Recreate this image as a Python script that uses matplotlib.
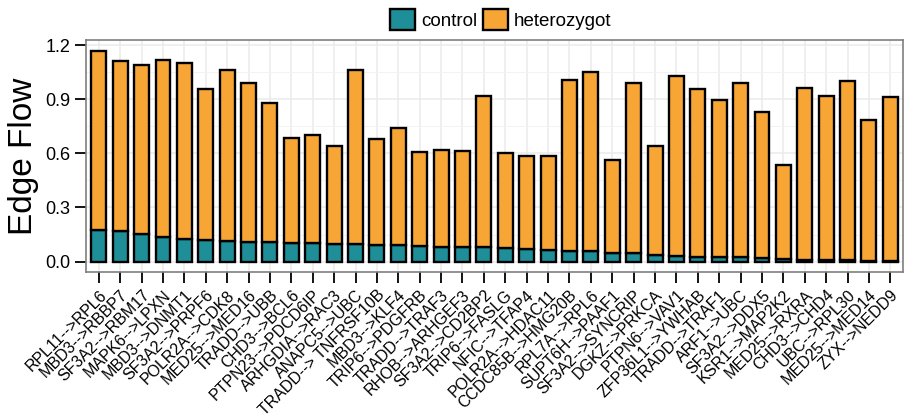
import matplotlib
matplotlib.use("Agg")
import matplotlib.pyplot as plt
import numpy as np
from matplotlib.ticker import MultipleLocator
from matplotlib.patches import Patch

# edge labels
edges = ["RPL11-->RPL6", "MBD3-->RBBP7", "SF3A2-->RBM17", "MAPK6-->LPXN",
         "MBD3-->DNMT1", "SF3A2-->PRPF6", "POLR2A-->CDK8", "MED25-->MED16",
         "TRADD-->UBB", "CHD3-->BCL6", "PTPN23-->PDCD6IP", "ARHGDIA-->RAC3",
         "ANAPC5-->UBC", "TRADD--> TNFRSF10B", "MBD3-->KLF4", "TRIP6-->PDGFRB",
         "TRADD-->TRAF3", "RHOB-->ARHGEF3", "SF3A2-->CD2BP2", "TRIP6-->FASLG",
         "NFIC-->TFAP4", "POLR2A-->HDAC11", "CCDC85B-->HMG20B", "RPL7A-->RPL6",
         "SUPT6H-->PAAF1", "SF3A2-->SYNCRIP", "DGKZ-->PRKCA", "PTPN6-->VAV1",
         "ZFP36L1-->YWHAB", "TRADD-->TRAF1", "ARF1-->UBC", "SF3A2-->DDX5",
         "KSR1-->MAP2K2", "MED25-->RXRA", "CHD3-->CHD4", "UBC-->RPL30",
         "MED25-->MED14", "ZYX-->NEDD9"]

# flow in control
control = [0.173, 0.169, 0.155, 0.136, 0.127, 0.122, 0.116, 0.111, 0.107, 0.105,
           0.101, 0.097, 0.096, 0.094, 0.090, 0.084, 0.083, 0.081, 0.079, 0.074,
           0.068, 0.066, 0.057, 0.057, 0.048, 0.048, 0.039, 0.033, 0.028, 0.024,
           0.024, 0.022, 0.016, 0.010, 0.008, 0.007, 0.005, 0.004]

# total flow (top of stacked bar)
total = [1.170, 1.113, 1.091, 1.117, 1.099, 0.958, 1.065, 0.992, 0.881, 0.686,
         0.704, 0.642, 1.065, 0.682, 0.739, 0.608, 0.621, 0.616, 0.916, 0.603,
         0.588, 0.586, 1.008, 1.052, 0.564, 0.988, 0.642, 1.027, 0.958, 0.894,
         0.988, 0.828, 0.536, 0.964, 0.921, 0.999, 0.787, 0.913]

heterozygot = [t - c for t, c in zip(total, control)]

teal = "#1E8F98"
orange = "#F7A535"

plt.rcParams['font.family'] = ['Liberation Sans', 'DejaVu Sans']

fig = plt.figure(figsize=(9.05, 4.18), dpi=100)
ax = fig.add_axes([0.095, 0.349, 0.903, 0.555])

x = np.arange(1, len(edges) + 1)
ax.bar(x, control, width=0.7, color=teal, edgecolor="black", linewidth=1.7, zorder=3)
ax.bar(x, heterozygot, bottom=control, width=0.7, color=orange,
       edgecolor="black", linewidth=1.7, zorder=3)

ax.set_xlim(0.4, len(edges) + 0.6)
ax.set_ylim(-0.0585, 1.2285)
ax.yaxis.set_minor_locator(MultipleLocator(0.15))
ax.set_yticks([0.0, 0.3, 0.6, 0.9, 1.2])
ax.set_yticklabels(["0.0", "0.3", "0.6", "0.9", "1.2"])
ax.set_xticks(x)
ax.set_xticklabels(edges, rotation=45, ha="right", va="top", rotation_mode="anchor")

# grid like theme_bw
ax.grid(True, which="major", color="#EBEBEB", linewidth=1.1, zorder=0)
ax.grid(True, which="minor", axis="y", color="#F3F3F3", linewidth=0.7, zorder=0)
ax.set_axisbelow(True)

for s in ax.spines.values():
    s.set_color("#7F7F7F")
    s.set_linewidth(1.2)

ax.tick_params(axis="both", which="major", length=8, width=1.3, color="black",
               labelsize=11.5, labelcolor="black", pad=3)
ax.tick_params(axis="y", which="major", labelsize=13)
ax.tick_params(axis="y", which="minor", length=0)

ax.set_ylabel("Edge Flow", fontsize=24, labelpad=5)

handles = [Patch(facecolor=teal, edgecolor="black", linewidth=1.7, label="control"),
           Patch(facecolor=orange, edgecolor="black", linewidth=1.7, label="heterozygot")]
fig.legend(handles=handles, loc="center", bbox_to_anchor=(0.553, 0.953), ncol=2,
           frameon=False, fontsize=13.5, handlelength=1.35, handleheight=1.35,
           handletextpad=0.3, columnspacing=0.3, borderaxespad=0)

fig.savefig("out.png", dpi=100)
